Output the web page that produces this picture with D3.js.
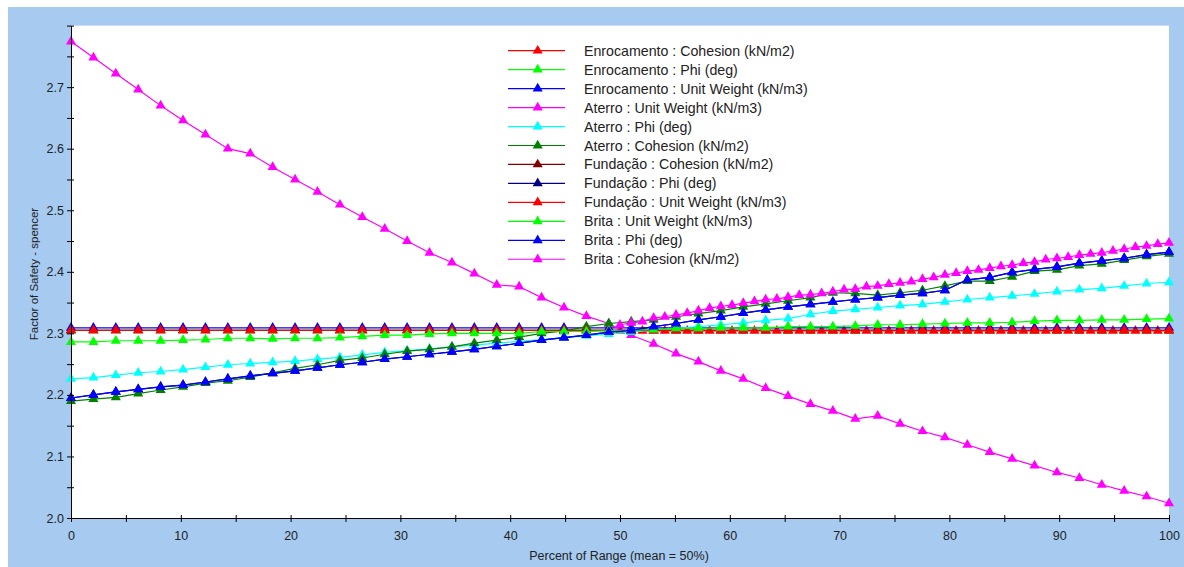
<!DOCTYPE html>
<html>
<head>
<meta charset="utf-8">
<script src="https://cdn.jsdelivr.net/npm/d3@7"></script>
<style>
  body { margin: 0; background: #fff; }
  svg { display: block; font-family: "Liberation Sans", Arial, sans-serif; }
</style>
</head>
<body>
<script>
// legend order = draw order
const seriesNames = [
  'Enrocamento : Cohesion (kN/m2)',
  'Enrocamento : Phi (deg)',
  'Enrocamento : Unit Weight (kN/m3)',
  'Aterro : Unit Weight (kN/m3)',
  'Aterro : Phi (deg)',
  'Aterro : Cohesion (kN/m2)',
  'Fundação : Cohesion (kN/m2)',
  'Fundação : Phi (deg)',
  'Fundação : Unit Weight (kN/m3)',
  'Brita : Unit Weight (kN/m3)',
  'Brita : Phi (deg)',
  'Brita : Cohesion (kN/m2)'
]

// percent of range covered by each series (cohesion with zero mean only goes one way)
const seriesSpan = [
  [50, 100], [0, 100], [0, 100], [0, 100], [0, 100], [0, 100],
  [0, 100], [0, 100], [0, 100], [0, 100], [0, 100], [50, 100]
]

const enrocamentoCohesion = [
  2.304, 2.304, 2.304, 2.304, 2.304, 2.304, 2.304, 2.304, 2.304, 2.304,
  2.304, 2.304, 2.304, 2.304, 2.304, 2.304, 2.304, 2.304, 2.304, 2.304,
  2.304, 2.304, 2.304, 2.304, 2.304, 2.304, 2.304, 2.304, 2.304, 2.304,
  2.304, 2.304, 2.304, 2.304, 2.304, 2.304, 2.304, 2.304, 2.304, 2.304,
  2.304, 2.304, 2.304, 2.304, 2.304, 2.304, 2.304, 2.304, 2.304, 2.304
]
const enrocamentoPhi = [
  2.305, 2.305, 2.305, 2.305, 2.305, 2.305, 2.305, 2.305, 2.305, 2.305,
  2.305, 2.305, 2.305, 2.305, 2.305, 2.305, 2.305, 2.305, 2.305, 2.305,
  2.305, 2.305, 2.305, 2.305, 2.305, 2.305, 2.305, 2.305, 2.305, 2.305,
  2.305, 2.305, 2.305, 2.305, 2.305, 2.305, 2.305, 2.305, 2.305, 2.305,
  2.305, 2.305, 2.305, 2.305, 2.305, 2.305, 2.305, 2.305, 2.305, 2.305
]
const enrocamentoUnitWeight = [
  2.309, 2.309, 2.309, 2.309, 2.309, 2.309, 2.309, 2.309, 2.309, 2.309,
  2.309, 2.309, 2.309, 2.309, 2.309, 2.309, 2.309, 2.309, 2.309, 2.309,
  2.309, 2.309, 2.309, 2.309, 2.309, 2.309, 2.309, 2.309, 2.309, 2.309,
  2.309, 2.309, 2.309, 2.309, 2.309, 2.309, 2.309, 2.309, 2.309, 2.309,
  2.309, 2.309, 2.309, 2.309, 2.309, 2.309, 2.309, 2.309, 2.309, 2.309
]
const aterroUnitWeight = [
  2.774, 2.748, 2.722, 2.696, 2.670, 2.646, 2.623, 2.600, 2.592, 2.570,
  2.550, 2.530, 2.509, 2.489, 2.470, 2.450, 2.431, 2.415, 2.397, 2.379,
  2.376, 2.358, 2.342, 2.328, 2.316, 2.297, 2.283, 2.267, 2.254, 2.239,
  2.226, 2.211, 2.198, 2.185, 2.174, 2.161, 2.166, 2.153, 2.141, 2.131,
  2.119, 2.107, 2.096, 2.085, 2.074, 2.065, 2.054, 2.044, 2.035, 2.024
]
const aterroPhi = [
  2.226, 2.228, 2.232, 2.236, 2.238, 2.241, 2.245, 2.249, 2.251, 2.253,
  2.255, 2.258, 2.261, 2.265, 2.269, 2.272, 2.275, 2.278, 2.281, 2.284,
  2.287, 2.290, 2.293, 2.296, 2.299, 2.302, 2.305, 2.308, 2.311, 2.314,
  2.317, 2.321, 2.324, 2.331, 2.336, 2.339, 2.342, 2.345, 2.347, 2.351,
  2.355, 2.358, 2.361, 2.364, 2.368, 2.371, 2.373, 2.377, 2.381, 2.383
]
const aterroCohesion = [
  2.190, 2.193, 2.196, 2.202, 2.208, 2.213, 2.219, 2.223, 2.229, 2.236,
  2.243, 2.249, 2.256, 2.260, 2.266, 2.271, 2.274, 2.278, 2.284, 2.289,
  2.294, 2.300, 2.304, 2.311, 2.316, 2.319, 2.322, 2.327, 2.332, 2.337,
  2.343, 2.348, 2.353, 2.358, 2.366, 2.365, 2.362, 2.366, 2.370, 2.377,
  2.385, 2.385, 2.392, 2.401, 2.403, 2.410, 2.413, 2.419, 2.425, 2.429
]
const fundacaoCohesion = [
  2.305, 2.305, 2.305, 2.305, 2.305, 2.305, 2.305, 2.305, 2.305, 2.305,
  2.305, 2.305, 2.305, 2.305, 2.305, 2.305, 2.305, 2.305, 2.305, 2.305,
  2.305, 2.305, 2.305, 2.305, 2.305, 2.305, 2.305, 2.305, 2.305, 2.305,
  2.305, 2.305, 2.305, 2.305, 2.305, 2.305, 2.305, 2.305, 2.305, 2.305,
  2.305, 2.305, 2.305, 2.305, 2.305, 2.305, 2.305, 2.305, 2.305, 2.305
]
const fundacaoPhi = [
  2.195, 2.200, 2.205, 2.209, 2.213, 2.216, 2.221, 2.226, 2.231, 2.235,
  2.239, 2.244, 2.249, 2.253, 2.258, 2.262, 2.266, 2.270, 2.274, 2.279,
  2.284, 2.289, 2.293, 2.297, 2.302, 2.305, 2.311, 2.316, 2.322, 2.327,
  2.333, 2.338, 2.343, 2.347, 2.351, 2.355, 2.358, 2.362, 2.365, 2.370,
  2.387, 2.391, 2.399, 2.404, 2.408, 2.414, 2.418, 2.422, 2.428, 2.432
]
const fundacaoUnitWeight = [
  2.305, 2.305, 2.305, 2.305, 2.305, 2.305, 2.305, 2.305, 2.305, 2.305,
  2.305, 2.305, 2.305, 2.305, 2.305, 2.305, 2.305, 2.305, 2.305, 2.305,
  2.305, 2.305, 2.305, 2.305, 2.305, 2.305, 2.305, 2.305, 2.305, 2.305,
  2.305, 2.305, 2.305, 2.305, 2.305, 2.305, 2.305, 2.305, 2.305, 2.305,
  2.305, 2.305, 2.305, 2.305, 2.305, 2.305, 2.305, 2.305, 2.305, 2.305
]
const britaUnitWeight = [
  2.286, 2.286, 2.288, 2.288, 2.288, 2.289, 2.290, 2.292, 2.292, 2.291,
  2.292, 2.292, 2.293, 2.295, 2.297, 2.297, 2.299, 2.300, 2.300, 2.300,
  2.300, 2.303, 2.303, 2.303, 2.304, 2.305, 2.306, 2.308, 2.308, 2.309,
  2.309, 2.309, 2.311, 2.311, 2.311, 2.312, 2.314, 2.314, 2.315, 2.316,
  2.317, 2.317, 2.318, 2.320, 2.321, 2.321, 2.322, 2.322, 2.323, 2.324
]
const britaPhi = [
  2.195, 2.200, 2.205, 2.209, 2.213, 2.216, 2.221, 2.226, 2.231, 2.235,
  2.239, 2.244, 2.249, 2.253, 2.258, 2.262, 2.266, 2.270, 2.274, 2.279,
  2.284, 2.289, 2.293, 2.297, 2.302, 2.305, 2.311, 2.316, 2.322, 2.327,
  2.333, 2.338, 2.343, 2.347, 2.351, 2.355, 2.358, 2.362, 2.365, 2.370,
  2.387, 2.391, 2.399, 2.404, 2.408, 2.414, 2.418, 2.422, 2.428, 2.432
]
const britaCohesion = [
  2.314, 2.317, 2.319, 2.325, 2.327, 2.330, 2.333, 2.337, 2.341, 2.344,
  2.346, 2.349, 2.352, 2.355, 2.356, 2.359, 2.362, 2.363, 2.365, 2.368,
  2.371, 2.372, 2.376, 2.377, 2.380, 2.382, 2.384, 2.388, 2.391, 2.395,
  2.398, 2.401, 2.403, 2.406, 2.409, 2.411, 2.414, 2.416, 2.420, 2.422,
  2.424, 2.427, 2.429, 2.431, 2.434, 2.437, 2.440, 2.442, 2.445, 2.447
]

const seriesValues = [
  enrocamentoCohesion, enrocamentoPhi, enrocamentoUnitWeight,
  aterroUnitWeight, aterroPhi, aterroCohesion,
  fundacaoCohesion, fundacaoPhi, fundacaoUnitWeight,
  britaUnitWeight, britaPhi, britaCohesion
]

const xMajorTicks = [0, 10, 20, 30, 40, 50, 60, 70, 80, 90, 100]
const yMajorTicks = [2.0, 2.1, 2.2, 2.3, 2.4, 2.5, 2.6, 2.7, 2.8]

const seriesColors = [
  '#ff0000', '#00ff00', '#0000ff', '#ff00ff', '#00ffff', '#008000',
  '#800000', '#000080', '#ff0000', '#00ff00', '#0000ff', '#ff00ff'
]

const draw = () => {
  const w = 1184
  const h = 567
  const left = 71
  const right = 1169
  const top = 25.6
  const bottom = 518

  const svg = d3.select('body').append('svg').attr('width', w).attr('height', h)

  svg.append('rect').attr('width', w).attr('height', h).attr('fill', '#fff')
  svg.append('rect').attr('x', 8).attr('y', 7).attr('width', w - 8).attr('height', h - 7).attr('fill', '#a6caf0')
  svg.append('rect').attr('x', left).attr('y', top).attr('width', right - left).attr('height', bottom - top).attr('fill', '#fff')

  const xScale = d3.scaleLinear().domain([0, 100]).range([left, right])
  const yScale = d3.scaleLinear().domain([2.0, 2.8]).range([bottom, top])

  const series = seriesValues.map((vals, k) => {
    const [a, b] = seriesSpan[k]
    return {
      name: seriesNames[k],
      color: seriesColors[k],
      points: vals.map((v, i) => [a + (i * (b - a)) / (vals.length - 1), v])
    }
  })

  const line = d3.line().x((d) => xScale(d[0])).y((d) => yScale(d[1]))
  const tri = d3.symbol(d3.symbolTriangle, 44)

  series.forEach((s) => {
    const g = svg.append('g')
    g.append('path')
      .attr('d', line(s.points))
      .attr('fill', 'none')
      .attr('stroke', s.color)
      .attr('stroke-width', 1.2)
    g.selectAll('path.m')
      .data(s.points)
      .enter()
      .append('path')
      .attr('class', 'm')
      .attr('d', tri)
      .attr('fill', s.color)
      .attr('transform', (d) => `translate(${xScale(d[0])},${yScale(d[1])})`)
  })

  // axes
  const yMinor = yMajorTicks.slice(0, -1).map((t) => t + 0.05)
  const xMinor = xMajorTicks.slice(0, -1).map((t) => t + 5)

  const yAxisG = svg.append('g').attr('class', 'yax').attr('transform', `translate(${left},0)`)
  yAxisG.append('g')
    .call(d3.axisLeft(yScale).tickValues(yMajorTicks).tickSize(4).tickSizeOuter(0).tickPadding(3)
      .tickFormat((d) => (d > 2.75 ? '' : d3.format('.1f')(d))))
  yAxisG.append('g')
    .call(d3.axisLeft(yScale).tickValues(yMinor).tickSize(4).tickSizeOuter(0).tickFormat(''))
    .select('.domain').remove()

  const xAxisG = svg.append('g').attr('class', 'xax').attr('transform', `translate(0,${bottom})`)
  xAxisG.append('g')
    .call(d3.axisBottom(xScale).tickValues(xMajorTicks).tickSize(4).tickSizeOuter(0).tickPadding(9))
  xAxisG.append('g')
    .call(d3.axisBottom(xScale).tickValues(xMinor).tickSize(4).tickSizeOuter(0).tickFormat(''))
    .select('.domain').remove()

  svg.selectAll('.tick line').attr('stroke', '#000')
  yAxisG.selectAll('.tick line').attr('x1', 3)
  xAxisG.selectAll('.tick line').attr('y1', -3)
  svg.selectAll('.domain').attr('stroke', '#000')
  svg.selectAll('.tick text').attr('font-size', 12.5).attr('fill', '#222')
    .attr('font-family', '"Liberation Sans", Arial, sans-serif')

  svg.append('text')
    .attr('transform', 'translate(38,274) rotate(-90)')
    .attr('text-anchor', 'middle')
    .attr('font-size', 11.5)
    .attr('fill', '#222')
    .text('Factor of Safety - spencer')

  svg.append('text')
    .attr('x', 619)
    .attr('y', 560)
    .attr('text-anchor', 'middle')
    .attr('font-size', 12.5)
    .attr('fill', '#222')
    .text('Percent of Range (mean = 50%)')

  // legend
  const legend = svg.append('g').attr('transform', 'translate(508,50.7)')
  const rows = legend.selectAll('g').data(series).enter().append('g')
    .attr('transform', (d, i) => `translate(0,${i * 18.96})`)
  rows.append('line').attr('x1', 0).attr('x2', 57).attr('stroke', (d) => d.color).attr('stroke-width', 1.2)
  rows.append('path').attr('d', tri).attr('fill', (d) => d.color).attr('transform', 'translate(29.7,0)')
  rows.append('text').attr('x', 76).attr('y', 5).attr('font-size', 14.2).attr('fill', '#222').text((d) => d.name)
}

draw()
</script>
</body>
</html>
